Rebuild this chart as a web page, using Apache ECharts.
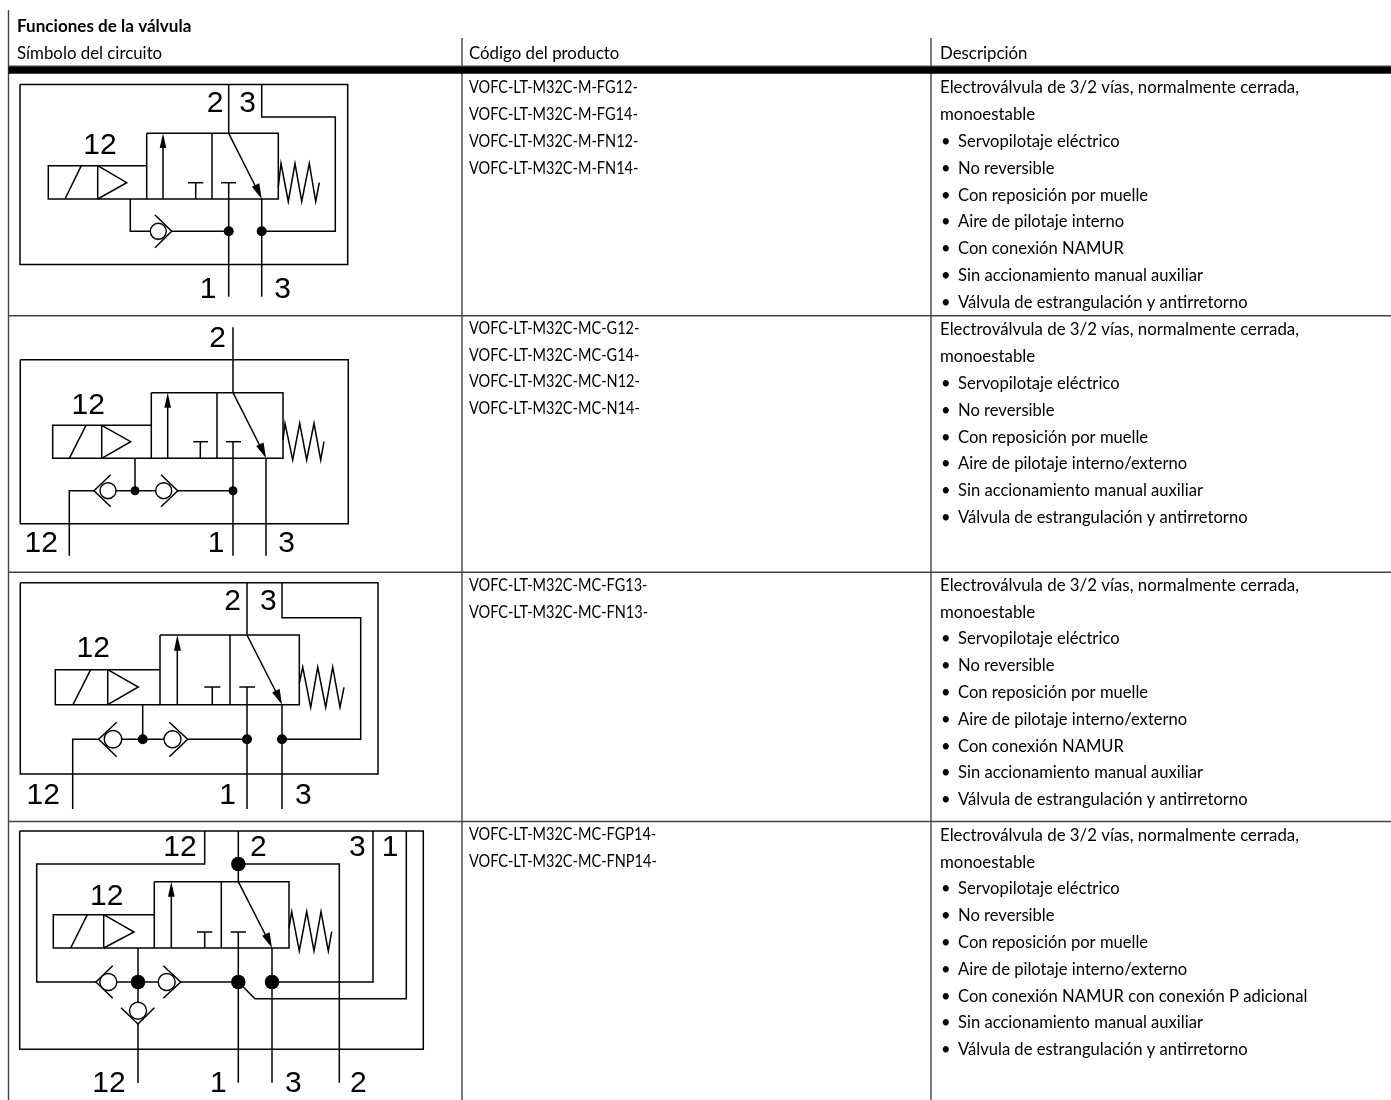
<!DOCTYPE html>
<html><head><meta charset="utf-8">
<style>html,body{margin:0;padding:0;background:#fff}#c{width:1391px;height:1100px}</style>
<script src="https://cdn.jsdelivr.net/npm/echarts@6/dist/echarts.min.js"></script>
</head><body><div id="c"></div>
<script>
const tableTitle = 'Funciones de la válvula';
const columnHeads = ['Símbolo del circuito', 'Código del producto', 'Descripción'];
const codes1 = ['VOFC-LT-M32C-M-FG12-','VOFC-LT-M32C-M-FG14-','VOFC-LT-M32C-M-FN12-','VOFC-LT-M32C-M-FN14-'];
const codes2 = ['VOFC-LT-M32C-MC-G12-','VOFC-LT-M32C-MC-G14-','VOFC-LT-M32C-MC-N12-','VOFC-LT-M32C-MC-N14-'];
const codes3 = ['VOFC-LT-M32C-MC-FG13-','VOFC-LT-M32C-MC-FN13-'];
const codes4 = ['VOFC-LT-M32C-MC-FGP14-','VOFC-LT-M32C-MC-FNP14-'];
const leadText = ['Electroválvula de 3/2 vías, normalmente cerrada,','monoestable'];
const bullets1 = ['Servopilotaje eléctrico','No reversible','Con reposición por muelle','Aire de pilotaje interno','Con conexión NAMUR','Sin accionamiento manual auxiliar','Válvula de estrangulación y antirretorno'];
const bullets2 = ['Servopilotaje eléctrico','No reversible','Con reposición por muelle','Aire de pilotaje interno/externo','Sin accionamiento manual auxiliar','Válvula de estrangulación y antirretorno'];
const bullets3 = ['Servopilotaje eléctrico','No reversible','Con reposición por muelle','Aire de pilotaje interno/externo','Con conexión NAMUR','Sin accionamiento manual auxiliar','Válvula de estrangulación y antirretorno'];
const bullets4 = ['Servopilotaje eléctrico','No reversible','Con reposición por muelle','Aire de pilotaje interno/externo','Con conexión NAMUR con conexión P adicional','Sin accionamiento manual auxiliar','Válvula de estrangulación y antirretorno'];
const rowCodeCenter = [88, 328.5, 585.5, 835];
const rowDescCenter = [88, 330, 585.5, 835.5];

const tableRules = [
 [[8.5,10],[8.5,1100]], [[462,38],[462,1100]], [[931,38],[931,1100]],
 [[8.5,66.2],[1391,66.2]], [[8.5,315.7],[1391,315.7]], [[8.5,572.3],[1391,572.3]], [[8.5,821.5],[1391,821.5]]
];
const headerBar = [[[8.5,70.2],[1391,70.2]]];

const wires = [
 // diagram 1
 [[20,84.5],[347.7,84.5],[347.7,264.5],[20,264.5],[20,84.5]],
 [[228.7,84.5],[228.7,133.3]],
 [[261.7,84.5],[261.7,117],[335.3,117],[335.3,231.3],[261.7,231.3]],
 [[146.7,133.3],[278.3,133.3],[278.3,199],[146.7,199],[146.7,133.3]],
 [[212,133.3],[212,199]],
 [[146.7,165.7],[48.3,165.7],[48.3,199],[146.7,199]],
 [[97.7,165.7],[97.7,199]], [[65,199],[81.3,165.7]],
 [[97.7,165.7],[126.7,182.7],[97.7,199]],
 [[163,199],[163,146]],
 [[195.7,199],[195.7,182.7]], [[188,182.7],[203.3,182.7]],
 [[228.7,182.7],[228.7,296.7]], [[221,182.7],[236,182.7]],
 [[228.7,133.3],[256,187.5]], [[261.7,199],[261.7,296.7]],
 [[278.3,187],[281,163.5],[288.3,201.5],[295,163.5],[301.7,201.5],[309.3,163.5],[315.7,201.5],[319.3,182.7]],
 [[130.3,199],[130.3,231.3],[150.5,231.3]],
 [[155,215],[171.7,231.3],[155,247.7]],
 [[171.7,231.3],[228.7,231.3]],
 // diagram 2
 [[20.3,359.7],[348.3,359.7],[348.3,523.7],[20.3,523.7],[20.3,359.7]],
 [[233,327.3],[233,392.7]],
 [[151.3,392.7],[283,392.7],[283,458.3],[151.3,458.3],[151.3,392.7]],
 [[217,392.7],[217,458.3]],
 [[151.3,425.3],[52.7,425.3],[52.7,458.3],[151.3,458.3]],
 [[101.7,425.3],[101.7,458.3]], [[69.3,458.3],[86,425.3]],
 [[101.7,425.3],[130.7,441.7],[101.7,458.3]],
 [[167.7,458.3],[167.7,405]],
 [[200.3,458.3],[200.3,441.7]], [[193.3,441.7],[208,441.7]],
 [[233,441.7],[233,555.7]], [[226,441.7],[241,441.7]],
 [[233,392.7],[260.5,447]], [[266,458.3],[266,555.7]],
 [[283,440],[285,423.3],[292.7,460],[299.7,423.3],[306.7,460],[314,423.3],[320.7,460],[324,441.7]],
 [[135,458.3],[135,490.7]],
 [[69.3,555.7],[69.3,490.7],[94,490.7]],
 [[110.7,474.7],[94,490.7],[110.7,506.7]],
 [[116,490.7],[155.7,490.7]],
 [[161,474.7],[177.7,490.7],[161,506.7]],
 [[177.7,490.7],[233,490.7]],
 // diagram 3
 [[20.3,582.7],[378,582.7],[378,774],[20.3,774],[20.3,582.7]],
 [[247,582.7],[247,635]],
 [[282,582.7],[282,617.7],[360.7,617.7],[360.7,739.3],[282,739.3]],
 [[160,635],[299.3,635],[299.3,704.7],[160,704.7],[160,635]],
 [[230,635],[230,704.7]],
 [[160,669.7],[55.3,669.7],[55.3,704.7],[160,704.7]],
 [[107.7,669.7],[107.7,704.7]], [[73,704.7],[90.7,669.7]],
 [[107.7,669.7],[138.3,687],[107.7,704.7]],
 [[177.3,704.7],[177.3,648]],
 [[212.3,704.7],[212.3,687]], [[204.3,687],[220.3,687]],
 [[247,687],[247,809]], [[239.3,687],[255,687]],
 [[247,635],[276,692]], [[282,704.7],[282,809]],
 [[299.3,683.3],[302.7,667],[310.7,707.3],[317.7,667],[325.7,707.3],[332.7,667],[340,707.3],[344,687.3]],
 [[142.7,704.7],[142.7,739.3]],
 [[72.7,809],[72.7,739.3],[98.7,739.3]],
 [[116.7,722.3],[98.7,739.3],[116.7,756.7]],
 [[121.7,739.3],[164,739.3]],
 [[169.3,722.3],[187.7,739.3],[169.3,756.7]],
 [[187.7,739.3],[247,739.3]],
 // diagram 4
 [[19.7,831],[423.3,831],[423.3,1049.3],[19.7,1049.3],[19.7,831]],
 [[204.7,831],[204.7,864],[36.7,864],[36.7,982],[96,982]],
 [[238.3,831],[238.3,881.7]],
 [[238.3,864],[339.3,864],[339.3,1082.7]],
 [[373,831],[373,982],[272,982]],
 [[406.3,831],[406.3,998.7],[255,998.7],[238.3,982]],
 [[154.3,881.7],[289,881.7],[289,948],[154.3,948],[154.3,881.7]],
 [[221.3,881.7],[221.3,948]],
 [[154.3,914.7],[53.3,914.7],[53.3,948],[154.3,948]],
 [[103.7,914.7],[103.7,948]], [[70.7,948],[87.3,914.7]],
 [[103.7,914.7],[134,932],[103.7,948]],
 [[171.3,948],[171.3,895]],
 [[204.7,948],[204.7,932]], [[197,932],[212.3,932]],
 [[238.3,932],[238.3,1082.7]], [[230.7,932],[246,932]],
 [[238.3,881.7],[266,936]], [[272,948],[272,1082.7]],
 [[289,928.3],[291.7,911.7],[299.3,951],[306.7,911.7],[314,951],[321,911.7],[328.3,951],[331.7,931.7]],
 [[138,948],[138,1002]],
 [[112.7,965.7],[96,982],[112.7,998.3]],
 [[116.8,982],[158,982]],
 [[163.3,965.7],[180.7,982],[163.3,998.3]],
 [[180.7,982],[238.3,982]],
 [[121,1007.7],[138,1024],[154.3,1007.7]],
 [[138,1024],[138,1083]]
];
// filled arrowheads: tip, base left, base right
const arrowHeads = [
 [[163,133.3],[159.7,148],[166.3,148]],
 [[261.7,199],[251.9,186.8],[259.3,183.2]],
 [[167.7,392.7],[164.4,407.7],[171,407.7]],
 [[266,458.3],[256.2,446],[263.6,442.4]],
 [[177.3,635],[174,650.7],[181,650.7]],
 [[282,704.7],[272.2,692.4],[279.6,688.8]],
 [[171.3,881.7],[168,896.7],[174.7,896.7]],
 [[272,948],[262.2,935.8],[269.6,932.2]]
];
const junctions = [
 [228.7,231.3,10],[261.7,231.3,10],
 [135,490.7,9],[233,490.7,9],
 [142.7,739.3,10],[247,739.3,10],[282,739.3,10],
 [238.3,864,14.5],[138,982,14.5],[238.3,982,14.5],[272,982,14.5]
];
const checkBalls = [
 [158.3,231.3,16],
 [108,490.7,16],[163.7,490.7,16],
 [113,739.3,17.5],[172.5,739.3,17],
 [108.3,982,17],[166.7,982,17],[138,1010.7,17]
];
const portLabels = [
 ['2',215,102],['3',247.7,102],['12',100,144],['1',208,288],['3',282.7,288],
 ['2',217.7,336.7],['12',88.3,403.3],['12',41.3,541.7],['1',216,541.7],['3',286.7,541.7],
 ['2',232.7,600],['3',268.3,600],['12',93.3,646.7],['12',43.3,793.3],['1',227.7,793.3],['3',303.3,793.3],
 ['12',180,846],['2',258.3,846],['3',357.3,846],['1',390,846],['12',106.7,895],['12',109,1081.7],['1',218.3,1081.7],['3',293.3,1081.7],['2',358.3,1081.7]
];

const BODY = 'Lato', STEP = 26.8;
const texts = [];
texts.push({t:tableTitle,x:17,y:26.5,w:'bold',s:1.035});
columnHeads.forEach((s,i)=>texts.push({t:s,x:[17,469,940][i],y:53.5,s:1.02}));
[codes1,codes2,codes3,codes4].forEach((arr,r)=>arr.forEach((s,i)=>texts.push({t:s,x:469,y:rowCodeCenter[r]+i*STEP,s:0.88})));
[bullets1,bullets2,bullets3,bullets4].forEach((arr,r)=>{
  leadText.forEach((s,i)=>texts.push({t:s,x:940,y:rowDescCenter[r]+i*STEP,s:1.02}));
  arr.forEach((s,i)=>{
    const y=rowDescCenter[r]+(i+2)*STEP;
    texts.push({t:'•',x:941,y,s:1});
    texts.push({t:s,x:958,y,s:1.005});
  });
});

const chart = echarts.init(document.getElementById('c'),null,{renderer:'canvas',width:1391,height:1100});
const LINE='#000', RULE='#444';
chart.setOption({
 animation:false,
 backgroundColor:'#fff',
 grid:{left:0,right:0,top:0,bottom:0},
 xAxis:{type:'value',min:0,max:1391,show:false},
 yAxis:{type:'value',min:0,max:1100,inverse:true,show:false},
 tooltip:{show:false},
 series:[
  {type:'lines',coordinateSystem:'cartesian2d',polyline:true,silent:true,z:1,
   lineStyle:{color:RULE,width:1.4,opacity:1},data:tableRules.map(c=>({coords:c}))},
  {type:'lines',coordinateSystem:'cartesian2d',polyline:true,silent:true,z:2,
   lineStyle:{color:'#000',width:7,opacity:1},data:headerBar.map(c=>({coords:c}))},
  {type:'lines',coordinateSystem:'cartesian2d',polyline:true,silent:true,z:3,
   lineStyle:{color:LINE,width:1.5,opacity:1,join:'miter'},data:wires.map(c=>({coords:c}))},
  {type:'custom',coordinateSystem:'cartesian2d',silent:true,z:4,
   data:arrowHeads.map((a,i)=>[a[0][0],a[0][1],i]),
   renderItem(p,api){
     const pts=arrowHeads[p.dataIndex].map(q=>api.coord(q));
     return {type:'polygon',shape:{points:pts},style:{fill:LINE}};
   }},
  {type:'scatter',silent:true,z:5,symbol:'circle',
   symbolSize:v=>v[2],itemStyle:{color:'#fff',borderColor:LINE,borderWidth:1.4,opacity:1},data:checkBalls},
  {type:'scatter',silent:true,z:6,symbol:'circle',
   symbolSize:v=>v[2],itemStyle:{color:LINE,opacity:1},data:junctions},
  {type:'custom',coordinateSystem:'cartesian2d',silent:true,z:7,
   data:portLabels.map(l=>[l[1],l[2]]),
   renderItem(p,api){
     const c=api.coord([api.value(0),api.value(1)]);
     return {type:'text',x:c[0],y:c[1]+2,style:{text:portLabels[p.dataIndex][0],fill:'#000',
       font:'30px "Liberation Sans"',align:'center',verticalAlign:'middle'}};
   }},
  {type:'custom',coordinateSystem:'cartesian2d',silent:true,z:8,
   data:texts.map(t=>[t.x,t.y]),
   renderItem(p,api){
     const t=texts[p.dataIndex], c=api.coord([api.value(0),api.value(1)]);
     return {type:'text',x:c[0],y:c[1],scaleX:t.s,originX:0,style:{text:t.t,fill:'#000',
       font:(t.w||'normal')+' 16.5px "'+BODY+'"',align:'left',verticalAlign:'middle'}};
   }}
 ]
});
</script></body></html>
